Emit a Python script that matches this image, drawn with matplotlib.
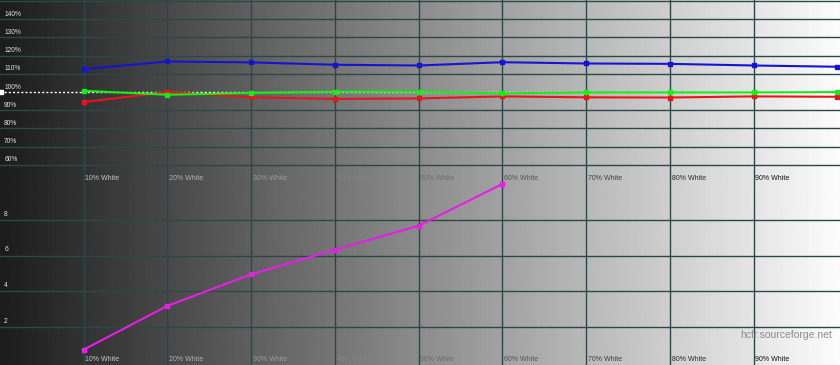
import numpy as np
import matplotlib.pyplot as plt

levels = [10, 20, 30, 40, 50, 60, 70, 80, 90, 100]
red = [94.5, 100.0, 97.1, 96.2, 96.5, 97.6, 97.1, 97.0, 97.6, 97.4]
green = [100.7, 98.5, 99.5, 100.2, 100.2, 99.3, 99.8, 99.8, 99.8, 100.0]
blue = [112.6, 116.8, 116.3, 115.0, 114.6, 116.4, 115.7, 115.5, 114.6, 113.9]

de_levels = [10, 20, 30, 40, 50, 60]
delta_e = [0.76, 3.2, 4.96, 6.33, 7.67, 10.0]

x_labels = ["10% White", "20% White", "30% White", "40% White", "50% White",
            "60% White", "70% White", "80% White", "90% White"]
top_ticks = [60, 70, 80, 90, 100, 110, 120, 130, 140]
bottom_ticks = [2, 4, 6, 8]

W, H = 840, 365
XMAX = 100.3
GRID = "#2e4646"
FONT = "Liberation Sans"


def bg_gray(x):
    # background brightness at data x (0..XMAX)
    return (28 + 224 * x / XMAX) / 255.0


fig = plt.figure(figsize=(W / 100, H / 100), dpi=100)

# gradient background over the whole picture
bg = fig.add_axes([0, 0, 1, 1])
grad = np.linspace(28, 252, 512)[None, :] / 255.0
bg.imshow(grad, cmap="gray", vmin=0, vmax=1, aspect="auto", extent=[0, 1, 0, 1])
bg.set_axis_off()

ax_top = fig.add_axes([0, (H - 183) / H, 1, 183 / H])
ax_bot = fig.add_axes([0, 0, 1, 182 / H])

for ax in (ax_top, ax_bot):
    ax.set_facecolor("none")
    ax.set_xlim(0, XMAX)
    for s in ax.spines.values():
        s.set_visible(False)
    ax.set_xticks([])
    ax.set_yticks([])
    for lv in levels[:-1]:
        ax.axvline(lv, color=GRID, lw=1, zorder=1)

ax_top.set_ylim(50, 150.6)
ax_bot.set_ylim(-0.1, 10.05)

for t in top_ticks + [150]:
    if t != 100:
        ax_top.axhline(t, color=GRID, lw=1, zorder=1)
for t in bottom_ticks:
    ax_bot.axhline(t, color=GRID, lw=1, zorder=1)

# y labels
lab_col = str(1 - bg_gray(0.5))
for t in top_ticks:
    ax_top.text(0.5, t + 0.8, f"{t}%", fontsize=4.8, family=FONT, color=lab_col,
                ha="left", va="bottom")
for t in bottom_ticks:
    ax_bot.text(0.5, t + 0.12, f"{t}", fontsize=4.8, family=FONT, color=lab_col,
                ha="left", va="bottom")

# x labels, drawn in the inverse of the background
for lv, lab in zip(levels, x_labels):
    c = str(1 - bg_gray(lv + 3))
    ax_top.text(lv + 0.2, 50.4, lab, fontsize=5, family=FONT, color=c,
                ha="left", va="bottom")
    ax_bot.text(lv + 0.2, 0.0, lab, fontsize=5, family=FONT, color=c,
                ha="left", va="bottom")

# reference line
ax_top.plot([0, XMAX], [100, 100], color="white", lw=1, ls=(0, (1.5, 1.5)), zorder=2)
ax_top.plot([0.15], [100], marker="s", ms=3, color="white", zorder=2)

ax_top.plot(levels, red, color="#e8141c", lw=1.5, marker="s", ms=3.5, zorder=3)
ax_top.plot(levels, green, color="#14f014", lw=1.5, marker="s", ms=3.5, zorder=4)
ax_top.plot(levels, blue, color="#1414d2", lw=1.5, marker="s", ms=3.5, zorder=3)

ax_bot.plot(de_levels, delta_e, color="#e61ee6", lw=1.5, marker="s", ms=3, zorder=3,
            clip_on=False)

fig.text(0.991, 1 - 335 / H, "hcfr.sourceforge.net", fontsize=7.5, family=FONT,
         color="#8c8c8c", ha="right", va="center")

fig.savefig("out.png", dpi=100)
